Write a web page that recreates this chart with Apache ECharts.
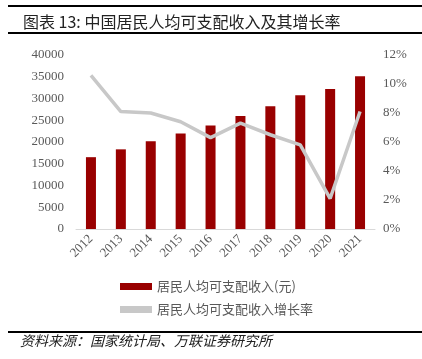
<!DOCTYPE html>
<html><head><meta charset="utf-8">
<script src="https://cdn.jsdelivr.net/npm/echarts@6/dist/echarts.min.js"></script>
<style>html,body{margin:0;padding:0;background:#fff}#c{width:422px;height:359px}</style>
</head><body><div id="c"></div>
<script>
const years = ['2012','2013','2014','2015','2016','2017','2018','2019','2020','2021'];
const income = [16510, 18311, 20167, 21966, 23821, 25974, 28228, 30733, 32189, 35128];
const growth = [10.6, 8.1, 8.0, 7.4, 6.3, 7.3, 6.5, 5.8, 2.1, 8.1];
const leftTicks = [0, 5000, 10000, 15000, 20000, 25000, 30000, 35000, 40000];
const rightTicks = [0, 2, 4, 6, 8, 10, 12];
const nameBar = '居民人均可支配收入(元)';
const nameLine = '居民人均可支配收入增长率';
const titleText = '图表 13: 中国居民人均可支配收入及其增长率';
const sourceText = '资料来源：国家统计局、万联证券研究所';

const serif = '"Liberation Serif","Noto Sans CJK SC",serif';
const chart = echarts.init(document.getElementById('c'), null, {renderer:'canvas'});
chart.setOption({
  animation:false,
  backgroundColor:'#fff',
  title:{text:titleText, left:18, top:9, textStyle:{fontSize:16, fontWeight:'normal', color:'#222', fontFamily:'"Noto Sans CJK SC",serif'}},
  graphic:[
    {type:'rect', shape:{x:8,y:5,width:414,height:2}, style:{fill:'#000'}},
    {type:'rect', shape:{x:8,y:32,width:414,height:2}, style:{fill:'#000'}},
    {type:'rect', shape:{x:8,y:331,width:414,height:2}, style:{fill:'#000'}},
    {type:'text', left:20, top:334, style:{text:sourceText, fill:'#222', font:'italic 14px "Noto Sans CJK SC"'}}
  ],
  legend:{
    orient:'vertical', left:115, top:275, itemWidth:32, itemHeight:7, itemGap:10,
    textStyle:{fontSize:13, color:'#595959', fontFamily:'"Noto Sans CJK SC"'},
    data:[{name:nameBar, icon:'rect'},{name:nameLine, icon:'rect', itemStyle:{color:'#c8c8c8'}}]
  },
  grid:{left:76, right:47, top:55, bottom:130},
  xAxis:{type:'category', data:years,
    axisLine:{lineStyle:{color:'#d9d9d9', width:1}}, axisTick:{show:false},
    axisLabel:{rotate:45, color:'#595959', fontSize:13, fontFamily:serif, margin:8, interval:0}},
  yAxis:[
    {type:'value', min:0, max:40000, interval:5000, splitLine:{show:false},
      axisLine:{show:false}, axisTick:{show:false},
      axisLabel:{color:'#595959', fontSize:13, fontFamily:serif, margin:12, formatter:function(v){return String(v);}}},
    {type:'value', min:0, max:12, interval:2, splitLine:{show:false},
      axisLine:{show:false}, axisTick:{show:false},
      axisLabel:{color:'#595959', fontSize:13, fontFamily:serif, margin:8, formatter:'{value}%'}}
  ],
  series:[
    {name:nameBar, type:'bar', data:income, barWidth:10, itemStyle:{color:'#990000'}},
    {name:nameLine, type:'line', yAxisIndex:1, data:growth, symbol:'none',
      lineStyle:{color:'#c8c8c8', width:3.5}, itemStyle:{color:'#c8c8c8'}}
  ]
});
</script></body></html>
